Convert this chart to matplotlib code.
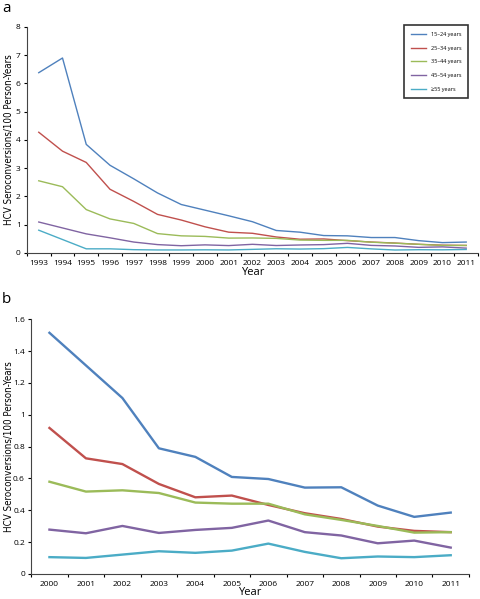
import matplotlib.pyplot as plt
import numpy as np

plt.rcParams['font.family'] = ['Open Sans', 'DejaVu Sans']

# panel a: 1993-2011
years_a = list(range(1993, 2012))
a_15_24 = [6.38, 6.90, 3.84, 3.10, 2.62, 2.12, 1.71, 1.51, 1.31, 1.10, 0.79, 0.73, 0.61, 0.60, 0.54, 0.54, 0.43, 0.36, 0.38]
a_25_34 = [4.27, 3.60, 3.20, 2.25, 1.82, 1.36, 1.16, 0.92, 0.73, 0.69, 0.56, 0.48, 0.49, 0.43, 0.38, 0.345, 0.30, 0.27, 0.26]
a_35_44 = [2.55, 2.34, 1.53, 1.20, 1.04, 0.68, 0.60, 0.58, 0.52, 0.525, 0.51, 0.45, 0.44, 0.44, 0.375, 0.34, 0.30, 0.26, 0.26]
a_45_54 = [1.09, 0.88, 0.67, 0.53, 0.38, 0.29, 0.25, 0.28, 0.255, 0.30, 0.257, 0.276, 0.289, 0.335, 0.262, 0.241, 0.192, 0.209, 0.165]
a_55 = [0.80, 0.47, 0.14, 0.14, 0.11, 0.10, 0.10, 0.105, 0.10, 0.121, 0.142, 0.132, 0.146, 0.19, 0.138, 0.098, 0.109, 0.105, 0.117]

# panel b: 2000-2011
years_b = list(range(2000, 2012))
b_15_24 = [1.515, 1.31, 1.105, 0.789, 0.735, 0.609, 0.596, 0.542, 0.544, 0.429, 0.358, 0.385]
b_25_34 = [0.917, 0.726, 0.690, 0.565, 0.481, 0.492, 0.433, 0.381, 0.345, 0.297, 0.270, 0.262]
b_35_44 = [0.579, 0.517, 0.525, 0.508, 0.448, 0.441, 0.441, 0.374, 0.339, 0.301, 0.259, 0.262]
b_45_54 = [0.278, 0.255, 0.301, 0.257, 0.276, 0.289, 0.335, 0.262, 0.241, 0.192, 0.209, 0.165]
b_55 = [0.105, 0.100, 0.121, 0.142, 0.132, 0.146, 0.190, 0.138, 0.098, 0.109, 0.105, 0.117]

labels = ["15–24 years", "25–34 years", "35–44 years", "45–54 years", "≥55 years"]
colors = ["#4F81BD", "#C0504D", "#9BBB59", "#8064A2", "#4BACC6"]


def style_axes(ax, years, ymax, ystep, ylab_x, xlab_y):
    n = len(years)
    ax.set_xlim(-0.5, n - 0.5)
    ax.set_ylim(0, ymax)
    ax.set_xticks(np.arange(n))
    ax.set_xticklabels([str(y) for y in years], fontsize=6)
    ax.set_xticks(np.arange(n + 1) - 0.5, minor=True)
    ax.tick_params(axis='x', which='major', length=0, pad=5)
    ax.tick_params(axis='x', which='minor', length=2.5, width=0.8)
    yt = np.arange(0, ymax + ystep / 2, ystep)
    ax.set_yticks(yt)
    ax.set_yticklabels(['%g' % round(v, 1) for v in yt], fontsize=6)
    ax.tick_params(axis='y', length=2.5, width=0.8, pad=2)
    for s in ['top', 'right']:
        ax.spines[s].set_visible(False)
    for s in ['left', 'bottom']:
        ax.spines[s].set_linewidth(0.8)
        ax.spines[s].set_color('#444444')
    ax.set_xlabel("Year", fontsize=8)
    ax.set_ylabel("HCV Seroconversions/100 Person-Years", fontsize=7,
                  family='DejaVu Sans', fontstretch='condensed')
    ax.yaxis.set_label_coords(ylab_x, 0.5)
    ax.xaxis.set_label_coords(0.5, xlab_y)


fig = plt.figure(figsize=(4.8, 5.99), dpi=100)

ax1 = fig.add_axes([0.056, 0.578, 0.94, 0.377])
series_a = [a_15_24, a_25_34, a_35_44, a_45_54, a_55]
x_a = np.arange(len(years_a))
for vals, c, lab in zip(series_a, colors, labels):
    ax1.plot(x_a, vals, color=c, lw=1.0, label=lab)
style_axes(ax1, years_a, 8, 1, -0.028, -0.062)
leg = ax1.legend(loc='upper right', bbox_to_anchor=(0.978, 1.008), fontsize=4,
                 frameon=True, fancybox=False, handlelength=2.6,
                 labelspacing=1.55, borderpad=1.25, handletextpad=0.9,
                 borderaxespad=0)
leg.get_frame().set_edgecolor('black')
leg.get_frame().set_linewidth(1.2)

ax2 = fig.add_axes([0.065, 0.042, 0.912, 0.425])
series_b = [b_15_24, b_25_34, b_35_44, b_45_54, b_55]
x_b = np.arange(len(years_b))
for vals, c in zip(series_b, colors):
    ax2.plot(x_b, vals, color=c, lw=1.7)
style_axes(ax2, years_b, 1.6, 0.2, -0.040, -0.051)

fig.text(0.004, 0.985, "a", fontsize=11, va='center')
fig.text(0.004, 0.50, "b", fontsize=11, va='center')

fig.savefig("out.png", dpi=100)
